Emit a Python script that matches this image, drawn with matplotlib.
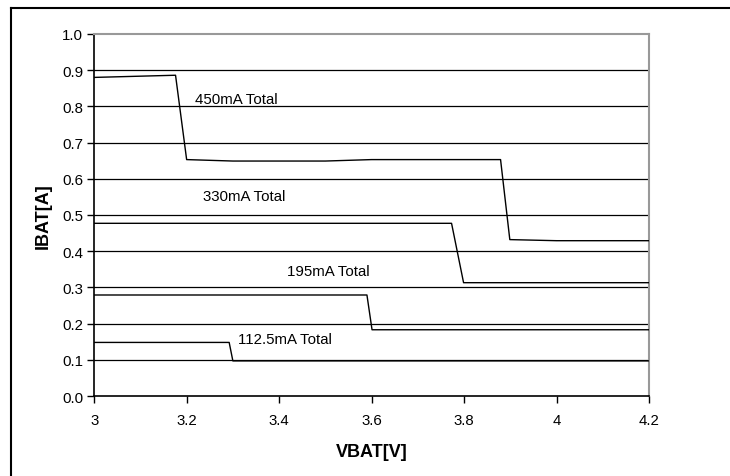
import matplotlib
matplotlib.use("Agg")
import matplotlib.pyplot as plt
from matplotlib.lines import Line2D

plt.rcParams['font.family'] = ['Liberation Sans', 'DejaVu Sans']

# Data
v_450 = [3.0, 3.176, 3.2, 3.3, 3.5, 3.6, 3.879, 3.899, 4.0, 4.2]
i_450 = [0.880, 0.886, 0.653, 0.649, 0.649, 0.653, 0.653, 0.432, 0.429, 0.429]

v_330 = [3.0, 3.1, 3.773, 3.799, 4.2]
i_330 = [0.477, 0.477, 0.477, 0.313, 0.313]

v_195 = [3.0, 3.1, 3.59, 3.601, 4.1, 4.2]
i_195 = [0.279, 0.279, 0.279, 0.183, 0.183, 0.183]

v_112 = [3.0, 3.1, 3.292, 3.300, 4.1, 4.2]
i_112 = [0.148, 0.148, 0.148, 0.097, 0.097, 0.097]

labels = ["450mA Total", "330mA Total", "195mA Total", "112.5mA Total"]
label_x = [3.218, 3.235, 3.417, 3.311]
label_y = [0.820, 0.552, 0.345, 0.157]

x_ticks = [3, 3.2, 3.4, 3.6, 3.8, 4, 4.2]
x_ticklabels = ["3", "3.2", "3.4", "3.6", "3.8", "4", "4.2"]
y_ticks = [0.0, 0.1, 0.2, 0.3, 0.4, 0.5, 0.6, 0.7, 0.8, 0.9, 1.0]

fig = plt.figure(figsize=(7.30, 4.77), dpi=100)
ax = fig.add_axes([0.129, 0.1677, 0.76, 0.759])

for yv in y_ticks[1:-1]:
    ax.axhline(yv, color='black', lw=0.9, zorder=1)

for v, i in [(v_450, i_450), (v_330, i_330), (v_195, i_195), (v_112, i_112)]:
    ax.plot(v, i, color='black', lw=1.0, zorder=3)

for t, x, y in zip(labels, label_x, label_y):
    ax.text(x, y, t, fontsize=10.8, ha='left', va='center', color='black')

ax.set_xlim(3.0, 4.2)
ax.set_ylim(0.0, 1.0)
ax.set_xticks(x_ticks)
ax.set_xticklabels(x_ticklabels)
ax.set_yticks(y_ticks)
ax.set_yticklabels([f"{y:.1f}" for y in y_ticks])
ax.tick_params(axis='both', labelsize=10.8, direction='out', length=5, width=1, color='black')
ax.tick_params(axis='y', pad=3)
ax.tick_params(axis='x', pad=7)

ax.spines['left'].set_color('black')
ax.spines['bottom'].set_color('black')
ax.spines['left'].set_linewidth(1.2)
ax.spines['bottom'].set_linewidth(1.2)
ax.spines['right'].set_color('#999999')
ax.spines['top'].set_color('#999999')
ax.spines['right'].set_linewidth(1.5)
ax.spines['top'].set_linewidth(1.5)

ax.set_xlabel("VBAT[V]", fontsize=13, fontweight='bold', labelpad=12)
ax.set_ylabel("IBAT[A]", fontsize=13, fontweight='bold', labelpad=7)

# Figure frame (left and top edges visible)
fig.add_artist(Line2D([11/730, 11/730], [0, 1 - 9/477], transform=fig.transFigure, color='black', lw=1.5))
fig.add_artist(Line2D([11/730, 1], [1 - 9/477, 1 - 9/477], transform=fig.transFigure, color='black', lw=1.5))

fig.savefig("out.png", dpi=100)
